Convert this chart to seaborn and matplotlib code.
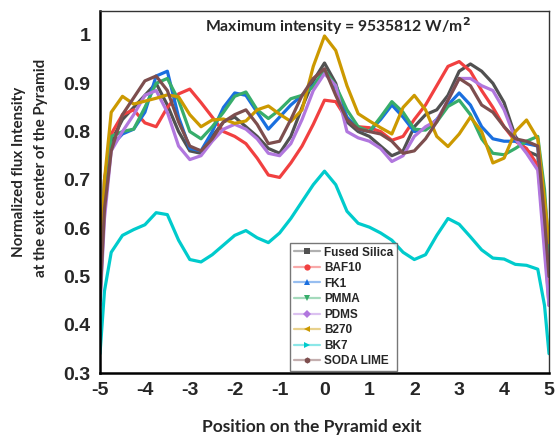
import numpy as np
import pandas as pd
import matplotlib
matplotlib.use("Agg")
import matplotlib.pyplot as plt
from matplotlib.lines import Line2D
import seaborn as sns

# ---------------- data ----------------
position = [-5, -4.9, -4.75, -4.5, -4.25, -4, -3.75, -3.5, -3.25, -3, -2.75, -2.5, -2.25, -2,
            -1.75, -1.5, -1.25, -1, -0.75, -0.5, -0.25, 0, 0.25, 0.5, 0.75, 1, 1.25, 1.5, 1.75, 2,
            2.25, 2.5, 2.75, 3, 3.25, 3.5, 3.75, 4, 4.25, 4.5, 4.75, 4.9, 5]

fused_silica = [0.46, 0.68, 0.78, 0.825, 0.85, 0.875,
                0.90, 0.855, 0.80, 0.76, 0.755, 0.79, 0.82, 0.83, 0.81, 0.79, 0.765, 0.755,
                0.79, 0.85, 0.905, 0.942, 0.90, 0.82, 0.80, 0.79, 0.77, 0.75, 0.76, 0.81,
                0.835, 0.845, 0.875, 0.925, 0.94, 0.925, 0.90, 0.86, 0.79, 0.76, 0.75, 0.60, 0.50]
baf10 = [0.45, 0.70, 0.795, 0.835, 0.845, 0.818,
         0.81, 0.85, 0.878, 0.888, 0.86, 0.83, 0.80, 0.79, 0.775, 0.745, 0.71, 0.705,
         0.735, 0.77, 0.815, 0.865, 0.862, 0.825, 0.81, 0.808, 0.80, 0.782, 0.79, 0.825,
         0.855, 0.895, 0.935, 0.945, 0.925, 0.885, 0.85, 0.81, 0.78, 0.765, 0.73, 0.58, 0.44]
fk1 = [0.47, 0.70, 0.77, 0.795, 0.805, 0.84,
       0.915, 0.925, 0.83, 0.765, 0.76, 0.80, 0.85, 0.88, 0.875, 0.84, 0.805, 0.83,
       0.855, 0.875, 0.895, 0.925, 0.89, 0.83, 0.805, 0.80, 0.825, 0.855, 0.83, 0.80,
       0.805, 0.825, 0.855, 0.88, 0.855, 0.81, 0.785, 0.78, 0.78, 0.775, 0.77, 0.60, 0.50]
pmma = [0.46, 0.67, 0.79, 0.80, 0.805, 0.85,
        0.90, 0.91, 0.865, 0.80, 0.785, 0.81, 0.84, 0.873, 0.882, 0.845, 0.827, 0.845,
        0.868, 0.875, 0.893, 0.928, 0.895, 0.845, 0.81, 0.80, 0.83, 0.862, 0.84, 0.805,
        0.803, 0.82, 0.852, 0.865, 0.835, 0.785, 0.755, 0.752, 0.765, 0.78, 0.79, 0.68, 0.55]
pdms = [0.44, 0.62, 0.76, 0.80, 0.835, 0.875,
        0.885, 0.84, 0.77, 0.742, 0.75, 0.78, 0.805, 0.815, 0.805, 0.785, 0.755, 0.75,
        0.775, 0.825, 0.885, 0.92, 0.895, 0.80, 0.787, 0.78, 0.765, 0.738, 0.75, 0.79,
        0.81, 0.823, 0.865, 0.91, 0.91, 0.895, 0.885, 0.845, 0.785, 0.755, 0.72, 0.55, 0.44]
b270 = [0.52, 0.70, 0.84, 0.873, 0.857, 0.863,
        0.869, 0.876, 0.872, 0.835, 0.81, 0.824, 0.826, 0.817, 0.822, 0.845, 0.853, 0.836,
        0.821, 0.845, 0.935, 0.998, 0.968, 0.895, 0.837, 0.822, 0.808, 0.795, 0.85, 0.875,
        0.845, 0.79, 0.769, 0.795, 0.83, 0.80, 0.735, 0.745, 0.80, 0.824, 0.785, 0.66, 0.57]
bk7 = [0.34, 0.47, 0.55, 0.585, 0.597, 0.607,
       0.632, 0.628, 0.575, 0.535, 0.53, 0.545, 0.565, 0.585, 0.595, 0.58, 0.57, 0.59,
       0.62, 0.655, 0.69, 0.718, 0.69, 0.635, 0.61, 0.602, 0.59, 0.575, 0.55, 0.535,
       0.545, 0.585, 0.62, 0.608, 0.582, 0.555, 0.538, 0.536, 0.525, 0.523, 0.515, 0.44, 0.34]
soda_lime = [0.45, 0.64, 0.76, 0.835, 0.87, 0.905,
             0.915, 0.885, 0.82, 0.77, 0.76, 0.785, 0.82, 0.835, 0.845, 0.815, 0.775, 0.78,
             0.825, 0.875, 0.91, 0.93, 0.875, 0.825, 0.805, 0.80, 0.795, 0.78, 0.755, 0.76,
             0.785, 0.82, 0.865, 0.91, 0.895, 0.855, 0.84, 0.81, 0.785, 0.78, 0.77, 0.62, 0.50]

materials = ["Fused Silica", "BAF10", "FK1", "PMMA", "PDMS", "B270", "BK7", "SODA LIME"]
series = [fused_silica, baf10, fk1, pmma, pdms, b270, bk7, soda_lime]
colors = ["#515151", "#F14040", "#1A6FDF", "#37AD6B", "#B177DE", "#CC9900", "#00CBCC", "#7D4E4E"]
markers = ["s", "o", "^", "v", "D", "<", ">", "h"]

yticks = [0.3, 0.4, 0.5, 0.6, 0.7, 0.8, 0.9, 1.0]
ytick_labels = ["0.3", "0.4", "0.5", "0.6", "0.7", "0.8", "0.9", "1"]
xticks_major = [-4, -2, 0, 2, 4]
xticks_minor = [-5, -3, -1, 1, 3, 5]

df = pd.concat([pd.DataFrame({"Position": position, "Intensity": vals, "Material": name})
                for name, vals in zip(materials, series)], ignore_index=True)

# ---------------- plot ----------------
sns.set_style("white")
plt.rcParams["font.family"] = ["Liberation Sans", "DejaVu Sans"]

fig = plt.figure(figsize=(5.57, 4.37), dpi=100)
ax = fig.add_axes([100 / 557, 1 - 373 / 437, 449 / 557, (373 - 10.5) / 437])

sns.lineplot(data=df, x="Position", y="Intensity", hue="Material", hue_order=materials,
             palette=colors, linewidth=2.3, ax=ax, legend=False, sort=False)

ax.set_xlim(-5, 5)
ax.set_ylim(0.3, 1.0 + 24.5 / 483)

ax.set_xticks(xticks_major)
ax.set_xticklabels([str(v) for v in xticks_major])
ax.set_xticks(xticks_minor, minor=True)
ax.set_xticklabels([str(v) for v in xticks_minor], minor=True)
ax.set_yticks(yticks)
ax.set_yticklabels(ytick_labels)
ax.set_yticks(np.arange(0.35, 1.0, 0.1), minor=True)

for lab in ax.get_xticklabels(which="both") + ax.get_yticklabels():
    lab.set_fontsize(14)
    lab.set_fontweight("bold")

ax.tick_params(axis="both", which="major", direction="inout", length=10, width=2.2,
               color="black", pad=2)
ax.tick_params(axis="y", which="minor", direction="inout", length=4, width=1, color="black")
ax.tick_params(axis="x", which="minor", direction="inout", length=6, width=1.2,
               color="black", pad=3.5, labelsize=14)
ax.tick_params(axis="x", which="major", pad=1.5)

for side in ["left", "bottom"]:
    ax.spines[side].set_linewidth(1.8)
    ax.spines[side].set_color("black")
for side in ["top", "right"]:
    ax.spines[side].set_linewidth(1.0)
    ax.spines[side].set_color("#333333")

ax.set_xlabel("")
ax.set_ylabel("")

ylabel_font = dict(family=["Lato", "DejaVu Sans"], fontweight="bold", fontsize=10.9)
fig.text(19 / 557, 1 - 172 / 437, "Normalized flux Intensity", rotation=90,
         ha="center", va="center", **ylabel_font)
fig.text(41 / 557, 1 - 168 / 437, "at the exit center of the Pyramid", rotation=90,
         ha="center", va="center", **ylabel_font)
fig.text(312 / 557, 1 - 427 / 437, "Position on the Pyramid exit",
         ha="center", va="center", family=["Lato", "DejaVu Sans"], fontweight="bold",
         fontsize=12.5)

ax.text(0.3, 1.018, r"Maximum intensity = 9535812 W/m$^{\mathbf{2}}$",
        ha="center", va="center", family=["Lato", "DejaVu Sans"], fontweight="bold",
        fontsize=11.3)

handles = [Line2D([0], [0], color=c, lw=1.6, marker=m, markersize=4.5,
                  markerfacecolor=c, markeredgecolor=c, markeredgewidth=0)
           for c, m in zip(colors, markers)]
leg = ax.legend(handles, materials, loc="upper left",
                bbox_to_anchor=((290 - 100) / 449, (373 - 243) / 362.5),
                borderaxespad=0, frameon=True, fancybox=False, handlelength=2.2,
                handletextpad=0.4, labelspacing=0.3, borderpad=0.3,
                prop=dict(family=["Liberation Sans"], weight="bold", size=8.5))
leg.get_frame().set_edgecolor("#555555")
leg.get_frame().set_linewidth(1.0)
for lh in leg.get_lines():
    c = lh.get_markerfacecolor()
    lh.set_color(matplotlib.colors.to_rgba(c, 0.45))
    lh.set_markerfacecolor(c)
    lh.set_markeredgecolor(c)

fig.savefig("out.png", dpi=100)
